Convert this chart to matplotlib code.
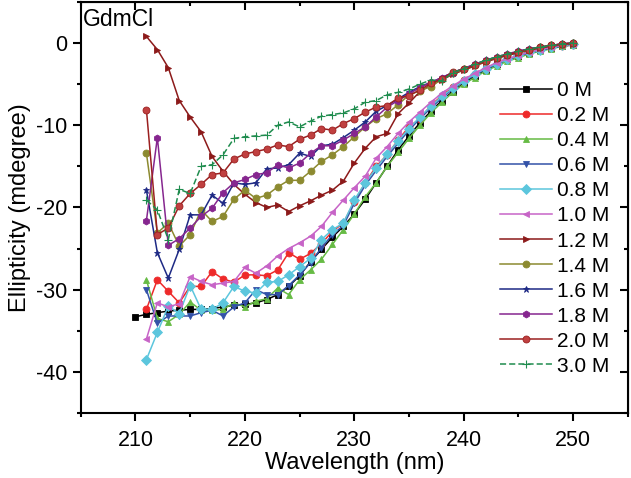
import numpy as np
import matplotlib
matplotlib.use("Agg")
import matplotlib.pyplot as plt
from matplotlib.ticker import MultipleLocator

plt.rcParams["font.family"] = ["Liberation Sans", "DejaVu Sans"]
plt.rcParams["axes.unicode_minus"] = False

# Wavelengths (nm)
wl_0 = np.arange(210, 251)
wl = np.arange(211, 251)

# Ellipticity (mdegree) per GdmCl concentration
ell_00 = [-33.3, -33.0, -32.8, -32.6, -32.5, -32.4, -32.4, -32.3, -32.1, -31.9, -31.8,
          -31.6, -31.2, -30.6, -29.6, -28.3, -26.6, -25.1, -23.6, -22.3, -20.8,
          -19.0, -17.0, -15.0, -13.0, -11.3, -9.7, -8.3, -7.0, -5.9, -4.9,
          -4.0, -3.3, -2.6, -2.0, -1.6, -1.2, -0.9, -0.6, -0.4, -0.2]
ell_02 = [-32.4, -28.8, -30.2, -31.6, -29.6, -29.6, -27.8, -28.7, -29.1, -28.2,
          -28.2, -28.3, -27.6, -25.5, -26.3, -25.6, -24.4, -22.9, -21.9, -19.3,
          -17.0, -15.0, -13.6, -11.8, -10.2, -9.2, -7.6, -6.4, -5.4, -4.5,
          -3.8, -3.1, -2.5, -2.0, -1.6, -1.2, -0.9, -0.6, -0.4, -0.2]
ell_04 = [-28.8, -33.5, -33.9, -33.0, -31.5, -32.5, -32.5, -32.4, -31.6, -32.1,
          -31.4, -31.1, -29.8, -30.6, -28.8, -27.6, -26.3, -24.5, -22.7, -20.8,
          -18.7, -17.0, -15.0, -13.3, -11.6, -10.0, -8.5, -7.2, -6.0, -5.0,
          -4.2, -3.4, -2.8, -2.2, -1.8, -1.3, -1.0, -0.7, -0.4, -0.2]
ell_06 = [-30.0, -34.1, -33.2, -33.2, -33.2, -32.8, -32.5, -33.2, -32.1, -31.6,
          -30.0, -30.6, -30.6, -29.5, -28.2, -26.7, -24.9, -23.3, -22.2, -19.5,
          -17.3, -15.5, -13.8, -12.2, -10.6, -9.2, -7.9, -6.7, -5.6, -4.7,
          -3.9, -3.2, -2.6, -2.0, -1.6, -1.2, -0.9, -0.6, -0.4, -0.1]
ell_08 = [-38.5, -35.2, -32.0, -32.9, -29.5, -32.4, -32.4, -31.6, -29.6, -30.2,
          -30.4, -29.1, -29.0, -28.2, -27.2, -26.2, -23.9, -22.7, -21.9, -19.1,
          -17.0, -15.2, -13.5, -11.9, -10.4, -9.0, -7.7, -6.5, -5.5, -4.6,
          -3.8, -3.1, -2.5, -2.0, -1.5, -1.1, -0.8, -0.5, -0.3, -0.1]
ell_10 = [-36.0, -31.6, -32.1, -31.7, -28.4, -29.0, -29.4, -29.2, -29.0, -27.3,
          -28.0, -27.1, -25.9, -25.0, -24.3, -23.5, -22.3, -20.6, -19.1, -17.6,
          -16.2, -14.0, -12.6, -11.0, -9.6, -8.4, -7.2, -6.1, -5.2, -4.4,
          -3.7, -3.0, -2.4, -1.9, -1.5, -1.1, -0.8, -0.5, -0.3, -0.1]
ell_12 = [0.8, -0.8, -3.0, -7.0, -9.0, -10.8, -13.8, -15.6, -17.2, -18.4,
          -19.4, -20.0, -19.7, -20.5, -19.8, -19.2, -18.5, -17.9, -16.8, -14.6,
          -12.8, -11.4, -11.0, -8.6, -7.3, -5.9, -5.1, -4.5, -3.8, -3.3,
          -2.8, -2.3, -1.9, -1.5, -1.2, -0.9, -0.6, -0.4, -0.2, -0.1]
ell_14 = [-13.4, -23.1, -21.9, -24.7, -23.3, -20.3, -21.7, -21.1, -19.0, -17.9,
          -18.9, -18.5, -17.5, -16.7, -16.7, -15.6, -14.4, -13.6, -12.6, -11.4,
          -10.2, -9.2, -8.6, -7.5, -6.3, -5.8, -5.3, -4.4, -3.7, -3.2,
          -2.7, -2.2, -1.8, -1.4, -1.1, -0.8, -0.5, -0.3, -0.2, 0.0]
ell_16 = [-17.9, -25.5, -28.6, -25.1, -20.9, -20.9, -18.5, -19.5, -17.0, -17.2,
          -17.0, -15.3, -15.2, -14.8, -13.4, -13.8, -12.5, -12.3, -11.5, -10.6,
          -9.6, -8.3, -7.6, -6.8, -6.0, -5.3, -4.8, -4.2, -3.6, -3.1,
          -2.6, -2.1, -1.7, -1.4, -1.0, -0.7, -0.5, -0.3, -0.1, 0.0]
ell_18 = [-21.6, -11.5, -24.6, -23.8, -22.5, -21.1, -20.1, -18.2, -17.0, -16.6,
          -16.0, -15.8, -14.8, -15.2, -14.6, -13.4, -12.5, -12.5, -11.8, -11.0,
          -10.2, -9.0, -7.8, -7.0, -6.2, -5.4, -4.8, -4.2, -3.6, -3.1,
          -2.6, -2.1, -1.7, -1.3, -1.0, -0.7, -0.5, -0.3, -0.1, 0.0]
ell_20 = [-8.1, -23.3, -22.5, -19.8, -18.3, -17.2, -16.0, -15.8, -14.1, -13.5,
          -13.2, -12.9, -12.4, -12.6, -11.7, -11.2, -10.4, -10.6, -9.8, -9.2,
          -8.4, -7.8, -7.6, -6.7, -6.4, -5.7, -4.9, -4.4, -3.5, -3.2,
          -2.7, -2.2, -1.8, -1.4, -1.1, -0.8, -0.5, -0.3, -0.1, 0.0]
ell_30 = [-19.1, -20.3, -23.9, -17.8, -18.3, -15.0, -14.8, -13.6, -11.6, -11.4,
          -11.3, -11.2, -10.0, -9.6, -10.2, -9.5, -8.9, -8.7, -8.5, -8.0,
          -7.2, -7.0, -6.3, -6.0, -5.6, -5.0, -4.5, -4.6, -3.6, -3.1,
          -2.6, -2.1, -1.7, -1.3, -1.0, -0.7, -0.5, -0.3, -0.1, 0.0]

labels = ["0 M", "0.2 M", "0.4 M", "0.6 M", "0.8 M", "1.0 M",
          "1.2 M", "1.4 M", "1.6 M", "1.8 M", "2.0 M", "3.0 M"]
series = [ell_00, ell_02, ell_04, ell_06, ell_08, ell_10,
          ell_12, ell_14, ell_16, ell_18, ell_20, ell_30]
colors = ["#000000", "#ee2a2a", "#66bb44", "#3352a8", "#5cc6dd", "#c764c7",
          "#8c1a1a", "#8c8a30", "#1e2a85", "#86268f", "#9b2020", "#1f8c4e"]
markers = ["s", "o", "^", "v", "D", "<", ">", "o", "*", "h", "o", "+"]

fig = plt.figure(figsize=(6.31, 4.78), dpi=100)
ax = fig.add_axes([0.128, 0.136, 0.867, 0.860])

for i, (lab, y) in enumerate(zip(labels, series)):
    x = wl_0 if i == 0 else wl
    kw = dict(color=colors[i], marker=markers[i], markersize=5, lw=1.1,
              label=lab, markeredgewidth=0.6)
    if lab == "2.0 M":
        kw["markerfacecolor"] = "#c04040"
    if lab == "3.0 M":
        kw["ls"] = (0, (4, 2))
        kw["markeredgewidth"] = 0.8
        kw["markersize"] = 5.5
    ax.plot(x, y, **kw)

ax.set_xlim(205, 255)
ax.set_ylim(-45, 5)
ax.set_xticks([210, 220, 230, 240, 250])
ax.xaxis.set_minor_locator(MultipleLocator(5))
ax.yaxis.set_major_locator(MultipleLocator(10))
ax.yaxis.set_minor_locator(MultipleLocator(5))
ax.tick_params(which="both", labelsize=15.5, width=1.5, direction="out", pad=4)
ax.tick_params(axis="x", pad=6)
ax.tick_params(which="major", length=6)
ax.tick_params(which="minor", length=3)
for s in ax.spines.values():
    s.set_linewidth(1.5)

# inward ticks on the top and right edges
top = ax.secondary_xaxis("top")
top.set_xticks([210, 220, 230, 240, 250])
top.xaxis.set_minor_locator(MultipleLocator(5))
top.tick_params(which="both", direction="in", labeltop=False, width=1.5)
top.tick_params(which="major", length=6)
top.tick_params(which="minor", length=3)
right = ax.secondary_yaxis("right")
right.yaxis.set_major_locator(MultipleLocator(10))
right.yaxis.set_minor_locator(MultipleLocator(5))
right.tick_params(which="both", direction="in", labelright=False, width=1.5)
right.tick_params(which="major", length=6)
right.tick_params(which="minor", length=3)

ax.set_xlabel("Wavelength (nm)", fontsize=17, labelpad=1)
ax.set_ylabel("Ellipticity (mdegree)", fontsize=17, labelpad=3)
ax.text(0.004, 0.985, "GdmCl", transform=ax.transAxes, fontsize=16.5,
        ha="left", va="top")

ax.legend(loc="upper left", bbox_to_anchor=(0.792, 0.83),
          bbox_transform=fig.transFigure, frameon=False, fontsize=15,
          handlelength=2.5, handletextpad=0.25, labelspacing=0.29,
          borderpad=0, borderaxespad=0)

fig.savefig("out.png", dpi=100)
